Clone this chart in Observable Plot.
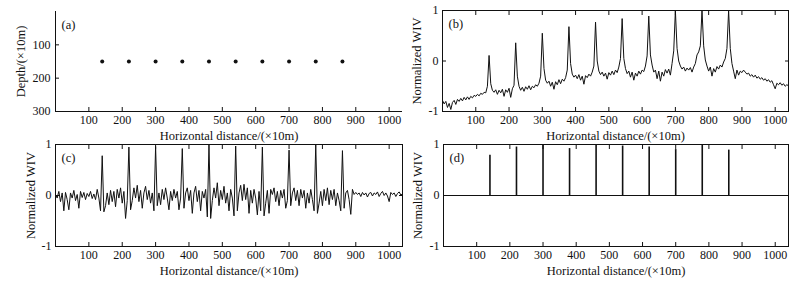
<!DOCTYPE html>
<html><head><meta charset="utf-8">
<script src="https://cdn.jsdelivr.net/npm/d3@7"></script>
<script src="https://cdn.jsdelivr.net/npm/@observablehq/plot@0.6"></script>
<style>
body{margin:0;background:#fff;}
#wrap{position:relative;width:800px;height:282px;overflow:hidden;font-family:"Liberation Serif",serif;background:#fff;}
.p{position:absolute;}
</style></head><body><div id="wrap"></div>
<script>
// ---- data ----
const sourceX = [140,220,300,380,460,540,620,700,780,860];
const sourceDepth = [150,150,150,150,150,150,150,150,150,150];
const xTicks = [100,200,300,400,500,600,700,800,900,1000];
const depthTicks = [100,200,300];
const wivTicks = [-1,0,1];
const panelLabels = ["(a)","(b)","(c)","(d)"];

const distance = [
0,5,10,15,20,25,30,35,40,45,
50,55,60,65,70,75,80,85,90,95,
100,105,110,115,120,125,130,135,140,145,
150,155,160,165,170,175,180,185,190,195,
200,205,210,215,220,225,230,235,240,245,
250,255,260,265,270,275,280,285,290,295,
300,305,310,315,320,325,330,335,340,345,
350,355,360,365,370,375,380,385,390,395,
400,405,410,415,420,425,430,435,440,445,
450,455,460,465,470,475,480,485,490,495,
500,505,510,515,520,525,530,535,540,545,
550,555,560,565,570,575,580,585,590,595,
600,605,610,615,620,625,630,635,640,645,
650,655,660,665,670,675,680,685,690,695,
700,705,710,715,720,725,730,735,740,745,
750,755,760,765,770,775,780,785,790,795,
800,805,810,815,820,825,830,835,840,845,
850,855,860,865,870,875,880,885,890,895,
900,905,910,915,920,925,930,935,940,945,
950,955,960,965,970,975,980,985,990,995,
1000,1005,1010,1015,1020,1025,1030,1035,1040];

const wivB = [
-0.78,-0.85,-0.80,-0.92,-0.84,-0.96,-0.82,-0.78,-0.86,-0.76,
-0.80,-0.74,-0.79,-0.72,-0.77,-0.71,-0.76,-0.70,-0.73,-0.68,
-0.70,-0.66,-0.69,-0.64,-0.66,-0.62,-0.63,-0.50,0.11,-0.45,
-0.58,-0.62,-0.57,-0.66,-0.58,-0.63,-0.56,-0.70,-0.57,-0.62,
-0.54,-0.72,-0.55,-0.48,0.36,-0.30,-0.50,-0.58,-0.52,-0.60,
-0.51,-0.56,-0.49,-0.57,-0.50,-0.53,-0.47,-0.50,-0.44,-0.30,
0.55,-0.15,-0.38,-0.44,-0.40,-0.50,-0.42,-0.56,-0.41,-0.47,
-0.37,-0.45,-0.36,-0.40,-0.33,-0.18,0.68,-0.05,-0.26,-0.32,
-0.28,-0.35,-0.27,-0.38,-0.30,-0.46,-0.29,-0.33,-0.26,-0.30,
-0.22,-0.10,0.77,0.00,-0.20,-0.27,-0.22,-0.30,-0.24,-0.36,
-0.23,-0.28,-0.20,-0.27,-0.18,-0.23,-0.12,0.05,0.84,0.05,
-0.15,-0.25,-0.20,-0.32,-0.22,-0.38,-0.24,-0.30,-0.20,-0.26,
-0.18,-0.21,-0.10,0.10,0.89,0.12,-0.08,-0.22,-0.18,-0.35,
-0.20,-0.40,-0.22,-0.30,-0.17,-0.24,-0.16,-0.28,-0.05,0.20,
1.00,0.25,0.00,-0.10,-0.16,-0.12,-0.20,-0.14,-0.18,-0.13,
-0.22,-0.12,-0.05,0.12,0.18,0.30,1.00,0.30,0.02,-0.10,
-0.20,-0.12,-0.30,-0.15,-0.22,-0.11,-0.16,-0.08,-0.12,-0.02,
0.05,0.25,1.00,0.25,-0.05,-0.20,-0.35,-0.18,-0.28,-0.20,
-0.23,-0.18,-0.22,-0.26,-0.24,-0.30,-0.27,-0.32,-0.28,-0.34,
-0.31,-0.36,-0.33,-0.38,-0.35,-0.40,-0.37,-0.42,-0.39,-0.47,
-0.55,-0.44,-0.47,-0.43,-0.48,-0.45,-0.50,-0.47,-0.49];

const wivC = [
0.02,-0.05,0.08,-0.12,0.05,-0.30,0.06,-0.08,-0.28,0.05,
-0.05,0.10,-0.10,0.02,-0.25,0.08,-0.04,0.06,-0.08,0.04,
-0.02,0.08,-0.06,0.03,-0.08,0.12,-0.05,-0.30,0.78,-0.32,
-0.20,0.05,-0.18,0.10,-0.12,0.08,-0.22,0.12,-0.05,0.15,
-0.15,0.08,-0.45,-0.10,0.95,-0.28,-0.10,0.15,-0.05,0.20,
-0.12,0.10,-0.25,0.05,0.18,-0.08,0.10,-0.15,0.05,-0.30,
0.96,-0.20,0.05,-0.18,0.12,-0.08,0.15,-0.05,-0.28,0.08,
-0.10,0.12,-0.05,0.08,-0.28,-0.05,0.92,-0.25,0.05,0.15,
-0.10,0.10,-0.35,0.05,0.18,-0.12,0.10,-0.30,0.08,-0.05,
0.12,-0.42,1.00,-0.45,-0.10,0.15,-0.05,0.25,-0.20,0.10,
-0.08,0.18,-0.15,0.05,-0.30,0.12,-0.05,-0.40,0.97,-0.30,
0.05,0.20,-0.10,0.22,-0.08,0.15,-0.35,0.10,-0.15,0.12,
-0.05,-0.38,0.08,-0.30,0.95,-0.40,-0.15,0.10,-0.35,0.12,
0.02,0.15,-0.12,0.08,-0.20,0.10,-0.05,0.12,-0.25,-0.10,
0.89,-0.20,0.05,0.15,-0.10,0.10,-0.20,0.12,-0.05,0.10,
-0.25,0.05,-0.15,0.12,-0.08,-0.30,1.00,-0.35,-0.15,0.08,
-0.20,0.12,-0.10,0.15,-0.18,0.10,-0.08,0.12,-0.20,0.05,
-0.10,-0.30,0.88,-0.25,0.05,0.10,-0.08,-0.37,0.12,0.02,
0.06,0.02,0.05,-0.02,0.06,0.01,0.05,-0.03,0.04,0.06,
-0.01,0.05,0.02,0.07,-0.02,0.04,0.08,0.00,0.05,-0.01,
-0.12,0.06,0.02,0.05,-0.02,0.04,0.07,0.01,0.03];

const wivD = [0.79,0.95,1.00,0.92,1.00,0.97,0.95,0.90,1.00,0.89];

// ---- helpers ----
const FONT = "Liberation Serif";
const INK = "#111";
const TICK = -4;
const XLABEL = "Horizontal distance/(×10m)";

function xAxes(box, labelOffset) {
  const m = [
    Plot.axisX(xTicks, {anchor: "bottom", tickSize: 0, tickPadding: 4, fontSize: 12, label: null, tickFormat: d => String(d), fill: INK}),
    Plot.axisX(xTicks, {anchor: "bottom", tickSize: TICK, stroke: INK, tickFormat: () => "", label: XLABEL, labelAnchor: "center", labelOffset, labelArrow: "none", fontSize: 12.5, fill: INK})
  ];
  if (box) m.push(Plot.axisX(xTicks, {anchor: "top", tickSize: TICK, stroke: INK, tickFormat: () => "", label: null}));
  return m;
}
function wivAxes(labelOffset) {
  return [
    Plot.axisY(wivTicks, {anchor: "left", tickSize: 0, tickPadding: 4, fontSize: 12, label: null, tickFormat: d => String(d), fill: INK}),
    Plot.axisY([0], {anchor: "left", tickSize: TICK, stroke: INK, tickFormat: () => "", label: "Normalized WIV", labelAnchor: "center", labelOffset, labelArrow: "none", fontSize: 12.5, fill: INK}),
    Plot.axisY([0], {anchor: "right", tickSize: TICK, stroke: INK, tickFormat: () => "", label: null})
  ];
}
function tag(t) {
  return Plot.text([t], {text: d => d, frameAnchor: "top-left", dx: 6, dy: 13, textAnchor: "start", lineAnchor: "middle", fontSize: 12.5, fill: INK});
}
const baseStyle = {fontFamily: FONT, fontSize: "12px", color: INK, background: "transparent", overflow: "visible"};

const dataB = distance.map((x, i) => ({x, y: wivB[i]}));
const dataC = distance.map((x, i) => ({x, y: wivC[i]}));
const dataA = sourceX.map((x, i) => ({x, y: sourceDepth[i]}));
const dataD = sourceX.map((x, i) => ({x, y: wivD[i]}));

const wrap = document.getElementById("wrap");
function place(svg, left, top, w) {
  const d = document.createElement("div");
  d.className = "p";
  d.style.left = left + "px";
  d.style.top = top + "px";
  d.style.width = w + "px";
  d.appendChild(svg);
  wrap.appendChild(d);
}

// (a)
place(Plot.plot({
  width: 405, height: 141, marginLeft: 55, marginRight: 3, marginTop: 11, marginBottom: 30,
  style: baseStyle,
  x: {domain: [0, 1040]},
  y: {domain: [0, 300], reverse: true},
  marks: [
    Plot.ruleX([0], {stroke: INK}),
    Plot.ruleY([300], {stroke: INK}),
    Plot.dot(dataA, {x: "x", y: "y", r: 2, fill: INK, stroke: null}),
    ...xAxes(false, 28),
    Plot.axisY(depthTicks, {anchor: "left", tickSize: 0, tickPadding: 5, fontSize: 12, label: null, tickFormat: d => String(d), fill: INK}),
    Plot.axisY([100, 200], {anchor: "left", tickSize: TICK, stroke: INK, tickFormat: () => "", label: "Depth/(×10m)", labelAnchor: "center", labelOffset: 39, labelArrow: "none", fontSize: 12.5, fill: INK}),
    tag(panelLabels[0])
  ]
}), 0, 0, 405);

// (b)
place(Plot.plot({
  width: 392, height: 141, marginLeft: 42, marginRight: 4, marginTop: 10, marginBottom: 30,
  style: baseStyle,
  x: {domain: [0, 1040]},
  y: {domain: [-1, 1]},
  marks: [
    Plot.line(dataB, {x: "x", y: "y", stroke: INK, strokeWidth: 1}),
    Plot.frame({stroke: INK}),
    ...xAxes(true, 28),
    ...wivAxes(30),
    tag(panelLabels[1])
  ]
}), 400, 0, 392);

// (c)
place(Plot.plot({
  width: 405, height: 141, marginLeft: 55, marginRight: 3, marginTop: 3, marginBottom: 36,
  style: baseStyle,
  x: {domain: [0, 1040]},
  y: {domain: [-1, 1]},
  marks: [
    Plot.line(dataC, {x: "x", y: "y", stroke: INK, strokeWidth: 1}),
    Plot.frame({stroke: INK}),
    ...xAxes(true, 28),
    ...wivAxes(29),
    tag(panelLabels[2])
  ]
}), 0, 141, 405);

// (d)
place(Plot.plot({
  width: 392, height: 141, marginLeft: 43, marginRight: 4, marginTop: 3, marginBottom: 36,
  style: baseStyle,
  x: {domain: [0, 1040]},
  y: {domain: [-1, 1]},
  marks: [
    Plot.ruleY([0], {stroke: INK, strokeWidth: 1}),
    Plot.ruleX(dataD, {x: "x", y1: 0, y2: "y", stroke: INK, strokeWidth: 1.6}),
    Plot.frame({stroke: INK}),
    ...xAxes(true, 28),
    ...wivAxes(30),
    tag(panelLabels[3])
  ]
}), 400, 141, 392);
</script></body></html>
